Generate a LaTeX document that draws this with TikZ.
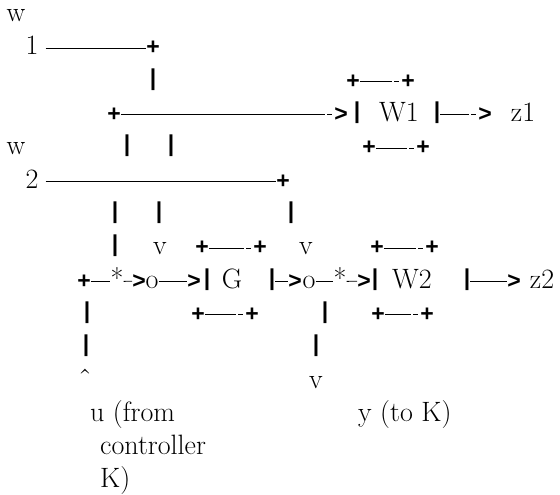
\documentclass[tikz,border=0pt]{standalone}
\usepackage{fontspec}
\newfontfamily\symfam{Liberation Sans}
\newcommand\rmtext{\fontsize{28}{33}\selectfont}
\newcommand\symtext{\symfam\bfseries\fontsize{23}{24}\selectfont}
\newcommand\bartext{\symfam\bfseries\fontsize{23}{24}\selectfont}
\tikzset{
  txt/.style={inner sep=0pt, anchor=base, font=\rmtext},
  txtw/.style={inner sep=0pt, anchor=base west, font=\rmtext},
  sym/.style={inner sep=0pt, anchor=base, font=\symtext},
  bar/.style={inner sep=0pt, anchor=base, font=\bartext, yshift=3pt},
  wire/.style={line width=0.85pt}
}
\newcommand\wirehy[2]{\draw[wire] (#1.east |- #2.center) -- ([xshift=-9pt]#2.west);
  \draw[wire] ([xshift=-7pt]#2.west) -- ([xshift=-2pt]#2.west);}
\begin{document}
\begin{tikzpicture}[x=1pt,y=-1pt]
\useasboundingbox (0,0) rectangle (560,495);
% row 0
\node[txt] (w1) at (16,21.7) {w};
% row 1
\node[txt] (one) at (32,55) {1};
\node[sym] (p1) at (153,55) {+};
\draw[wire] ([xshift=7pt]one.east |- p1.center) -- (p1.west);
% row 2
\node[bar] (v2) at (153,88.3) {|};
% W1 box top
\node[sym] (bt1l) at (353,88.3) {+};
\node[sym] (bt1r) at (408,88.3) {+};
\wirehy{bt1l}{bt1r}
% row 3
\node[sym] (p3) at (114,121.6) {+};
\node[sym] (gt3) at (341,121.6) {>};
\wirehy{p3}{gt3}
\node[bar] (b3a) at (357,121.6) {|};
\node[txt] (W1) at (399,121.6) {W1};
\node[bar] (b3b) at (437,121.6) {|};
\node[sym] (gt3b) at (485,121.6) {>};
\wirehy{b3b}{gt3b}
\node[txt] (z1) at (523,121.6) {z1};
% W1 box bottom
\node[sym] (bb1l) at (369,154.9) {+};
\node[sym] (bb1r) at (423,154.9) {+};
\wirehy{bb1l}{bb1r}
% row 4
\node[txt] (w2) at (16,154.9) {w};
\node[bar] (v4a) at (127,154.9) {|};
\node[bar] (v4b) at (171,154.9) {|};
% row 5
\node[txt] (two) at (32,188.2) {2};
\node[sym] (p5) at (283,188.2) {+};
\draw[wire] ([xshift=7pt]two.east |- p5.center) -- (p5.west);
% row 6
\node[bar] (v6a) at (115,221.5) {|};
\node[bar] (v6b) at (159,221.5) {|};
\node[bar] (v6c) at (291,221.5) {|};
% row 7
\node[bar] (v7a) at (115,254.8) {|};
\node[txt] (d7a) at (160,254.8) {v};
\node[sym] (btGl) at (202,254.8) {+};
\node[sym] (btGr) at (260,254.8) {+};
\wirehy{btGl}{btGr}
\node[txt] (d7b) at (306,254.8) {v};
\node[sym] (bt2l) at (377,254.8) {+};
\node[sym] (bt2r) at (432,254.8) {+};
\wirehy{bt2l}{bt2r}
% row 8
\node[sym] (p8) at (84,288.1) {+};
\node[txt] (s1) at (117,288.1) {*};
\node[sym] (gA) at (139,288.1) {>};
\node[txt] (o1) at (152,288.1) {o};
\node[sym] (gB) at (194,288.1) {>};
\node[bar] (bGa) at (207,288.1) {|};
\node[txt] (G) at (232,288.1) {G};
\node[bar] (bGb) at (272,288.1) {|};
\node[sym] (gC) at (295,288.1) {>};
\node[txt] (o2) at (309,288.1) {o};
\node[txt] (s2) at (340,288.1) {*};
\node[sym] (gD) at (364,288.1) {>};
\node[bar] (bWa) at (375,288.1) {|};
\node[txt] (W2) at (412,288.1) {W2};
\node[bar] (bWb) at (467,288.1) {|};
\node[sym] (gE) at (514,288.1) {>};
\node[txt] (z2) at (542,288.1) {z2};
\draw[wire] (p8.east) -- (s1.west |- p8.center);
\draw[wire] (s1.east |- p8.center) -- (gA.west);
\draw[wire] (o1.east |- gB.center) -- (gB.west);
\draw[wire] (bGb.east |- gC.center) -- (gC.west);
\draw[wire] (o2.east |- p8.center) -- (s2.west |- p8.center);
\draw[wire] (s2.east |- p8.center) -- (gD.west);
\draw[wire] (bWb.east |- gE.center) -- (gE.west);
% row 9
\node[bar] (v9a) at (87,321.4) {|};
\node[sym] (bbGl) at (198,321.4) {+};
\node[sym] (bbGr) at (252,321.4) {+};
\wirehy{bbGl}{bbGr}
\node[bar] (v9b) at (325,321.4) {|};
\node[sym] (bb2l) at (378,321.4) {+};
\node[sym] (bb2r) at (427,321.4) {+};
\wirehy{bb2l}{bb2r}
% row 10
\node[bar] (v10a) at (86,354.7) {|};
\node[bar] (v10b) at (316,354.7) {|};
% row 11
\node[txt] (up) at (85,388) {\symbol{"02C6}};
\node[txt] (dn) at (316,388) {v};
% rows 12-14
\node[txtw] (u) at (90,421.3) {u (from};
\node[txtw] (y) at (358,421.3) {y (to K)};
\node[txtw] (c) at (100,454.6) {controller};
\node[txtw] (k) at (100,487.9) {K)};
\end{tikzpicture}
\end{document}
